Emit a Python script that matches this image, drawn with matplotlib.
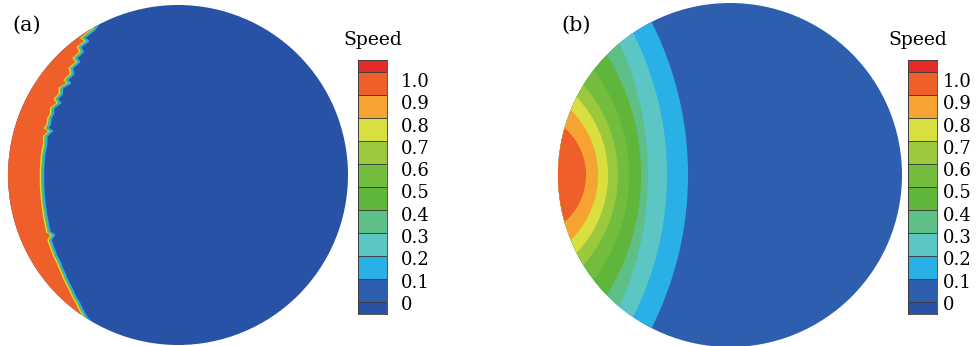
import numpy as np
import matplotlib
matplotlib.use('Agg')
import matplotlib.pyplot as plt
from matplotlib.patches import Circle, Polygon, Rectangle
from matplotlib import transforms

plt.rcParams['font.family'] = 'DejaVu Serif'

# colour bands of the Speed scale, bottom (<0) to top (>1.0)
band_colors = ['#2852a5', '#2e5fae', '#29b0e6', '#5cc6c4', '#5ebf87',
               '#60b63a', '#72bd3e', '#9bc83c', '#d8df3f', '#f5a332',
               '#ee5f2a', '#e52a27']
band_edges = [-0.05, 0.0, 0.1, 0.2, 0.3, 0.4, 0.5, 0.6, 0.7, 0.8, 0.9, 1.0, 1.05]
tick_values = [0, 0.1, 0.2, 0.3, 0.4, 0.5, 0.6, 0.7, 0.8, 0.9, 1.0]
tick_labels = ['0', '0.1', '0.2', '0.3', '0.4', '0.5', '0.6', '0.7', '0.8', '0.9', '1.0']

# (a) jagged front between the fast region (0.9-1.0) and the still region,
# in units of the disk radius
front_u = [-0.45, -0.500, -0.560, -0.535, -0.582, -0.566, -0.606, -0.588, -0.630,
           -0.622, -0.660, -0.640, -0.688, -0.690, -0.718, -0.700, -0.740,
           -0.741, -0.756, -0.759, -0.775, -0.748, -0.780, -0.782, -0.794,
           -0.800, -0.800, -0.794, -0.782, -0.771, -0.762, -0.736, -0.756,
           -0.735, -0.722, -0.700, -0.692, -0.676, -0.664, -0.647, -0.634,
           -0.618, -0.606, -0.588, -0.576, -0.559, -0.546, -0.530, -0.500, -0.45]
front_v = [0.92, 0.853, 0.806, 0.788, 0.753, 0.724, 0.688, 0.665, 0.629,
           0.594, 0.559, 0.541, 0.512, 0.476, 0.447, 0.424, 0.394,
           0.359, 0.335, 0.300, 0.276, 0.259, 0.229, 0.176, 0.118,
           0.029, -0.059, -0.147, -0.235, -0.294, -0.335, -0.353, -0.382,
           -0.441, -0.476, -0.518, -0.541, -0.576, -0.606, -0.641, -0.665,
           -0.700, -0.724, -0.753, -0.782, -0.812, -0.835, -0.853, -0.882, -0.92]
front_level = 0.9

# (b) iso-speed contours: level, x where it crosses the centre line,
# and height where it meets the disk rim (units of disk radius)
contour_levels = [0.1, 0.2, 0.3, 0.4, 0.5, 0.6, 0.7, 0.8, 0.9]
contour_mid_x = [-0.244, -0.366, -0.477, -0.517, -0.587, -0.651, -0.709, -0.767, -0.837]
contour_rim_h = [0.890, 0.826, 0.767, 0.698, 0.610, 0.523, 0.453, 0.378, 0.273]

W, H = 976, 346


def px_axes(fig, x0, y0, x1, y1):
    # place an axes given pixel corners (top-left origin)
    return fig.add_axes([x0 / W, (H - y1) / H, (x1 - x0) / W, (y1 - y0) / H])


def band_color(value):
    for i in range(len(band_edges) - 1):
        if band_edges[i] <= value < band_edges[i + 1]:
            return band_colors[i]
    return band_colors[-1]


def disk_axes(ax):
    ax.set_xlim(-1, 1)
    ax.set_ylim(-1, 1)
    ax.set_aspect('equal')
    ax.axis('off')
    disk = Circle((0, 0), 1, transform=ax.transData, facecolor='none', edgecolor='none')
    ax.add_patch(disk)
    return disk


def draw_colorbar(fig, x0, x1, label_x, title_x):
    cax = px_axes(fig, x0, 60, x1, 314)
    cax.set_xlim(0, 1)
    cax.set_ylim(band_edges[0], band_edges[-1])
    for i, c in enumerate(band_colors):
        cax.add_patch(Rectangle((0, band_edges[i]), 1, band_edges[i + 1] - band_edges[i],
                                facecolor=c, edgecolor='#3a3a3a', lw=0.6))
    cax.set_xticks([])
    cax.set_yticks([])
    for s in cax.spines.values():
        s.set_linewidth(0.6)
        s.set_color('#3a3a3a')
    # labels sit just below each band boundary
    for v, t in zip(tick_values, tick_labels):
        y_px = 305 - (305 - 82) * v
        fig.text(label_x / W, (H - y_px) / H, t, fontsize=13, va='center', ha='left')
    fig.text(title_x / W, (H - 40) / H, 'Speed', fontsize=13.5, va='center', ha='center')


fig = plt.figure(figsize=(W / 100, H / 100), dpi=100)

# panel (a)
ax_a = px_axes(fig, 8, 5, 348, 345)
disk_a = disk_axes(ax_a)
bulk = Circle((0, 0), 1, facecolor=band_colors[0], edgecolor='none')
ax_a.add_patch(bulk)
poly = Polygon(list(zip(front_u, front_v)) + [(-1.2, -0.92), (-1.2, 0.92)],
               closed=True, facecolor=band_color(front_level), edgecolor='none')
ax_a.add_patch(poly)
poly.set_clip_path(disk_a)
for dx, c in [(-1.4, band_colors[8]), (0.0, band_colors[6]), (1.4, band_colors[2])]:
    tr = transforms.offset_copy(ax_a.transData, fig=fig, x=dx, y=0, units='dots')
    ln, = ax_a.plot(front_u, front_v, color=c, lw=1.2, transform=tr,
                    solid_joinstyle='miter')
    ln.set_clip_path(disk_a)

# panel (b)
ax_b = px_axes(fig, 558, 3, 902, 347)
disk_b = disk_axes(ax_b)
ax_b.add_patch(Circle((0, 0), 1, facecolor=band_colors[1], edgecolor='none'))
for lev, m, h in zip(contour_levels, contour_mid_x, contour_rim_h):
    xe = -np.sqrt(1 - h ** 2)
    c = (m ** 2 - xe ** 2 - h ** 2) / (2 * (m - xe))
    arc = Circle((c, 0), m - c, facecolor=band_color(lev + 0.05), edgecolor='none')
    ax_b.add_patch(arc)
    arc.set_clip_path(disk_b)

draw_colorbar(fig, 358, 387, 401, 373)
draw_colorbar(fig, 908, 937, 943, 918)

fig.text(12 / W, (H - 25) / H, '(a)', fontsize=15, va='center', ha='left')
fig.text(561 / W, (H - 25) / H, '(b)', fontsize=15, va='center', ha='left')

fig.savefig('out.png', dpi=100)
